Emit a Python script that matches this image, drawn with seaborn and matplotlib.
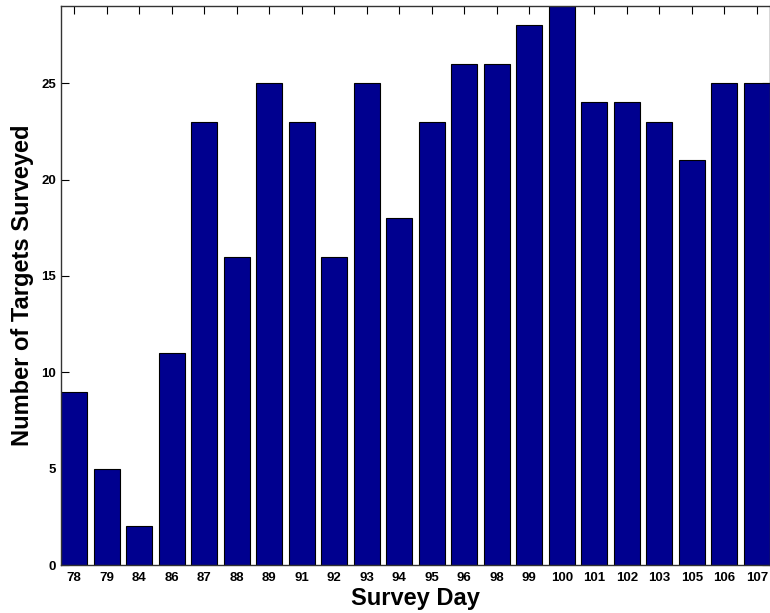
import pandas as pd
import seaborn as sns
import matplotlib.pyplot as plt

days = ["78", "79", "84", "86", "87", "88", "89", "91", "92", "93", "94",
        "95", "96", "98", "99", "100", "101", "102", "103", "105", "106", "107"]
targets = [9, 5, 2, 11, 23, 16, 25, 23, 16, 25, 18,
           23, 26, 26, 28, 29, 24, 24, 23, 21, 25, 25]


def main() -> None:
    df = pd.DataFrame({"day": days, "targets": targets})

    sns.set_style("ticks")
    plt.rcParams["font.family"] = ["Liberation Sans", "DejaVu Sans"]
    plt.rcParams["font.weight"] = "bold"
    plt.rcParams["text.color"] = "black"
    plt.rcParams["axes.labelcolor"] = "black"
    plt.rcParams["xtick.color"] = "black"
    plt.rcParams["ytick.color"] = "black"

    fig = plt.figure(figsize=(7.7, 6.13), dpi=100)
    ax = fig.add_axes([0.0792, 0.0783, 0.9208, 0.9117])
    sns.barplot(data=df, x="day", y="targets", order=days, color="#00008F",
                saturation=1, edgecolor="black", linewidth=0.8, width=0.8, ax=ax)

    ax.set_xlim(-0.4, len(days) - 0.6)
    ax.set_ylim(0, 29)
    ax.set_yticks([0, 5, 10, 15, 20, 25])
    ax.tick_params(direction="in", top=True, right=True, length=6,
                   labelsize=9.5, width=0.8, colors="black")
    ax.tick_params(axis="x", pad=5)
    for lab in ax.get_xticklabels() + ax.get_yticklabels():
        lab.set_fontweight("bold")
    for sp in ax.spines.values():
        sp.set_visible(True)
        sp.set_linewidth(1.0)
        sp.set_color("#333333")

    ax.set_xlabel("Survey Day", fontsize=17, fontweight="bold", labelpad=2,
                  color="black")
    ax.set_ylabel("Number of Targets Surveyed", fontsize=17, fontweight="bold",
                  labelpad=5, color="black")

    fig.savefig("out.png", dpi=100)
    plt.close(fig)


if __name__ == "__main__":
    main()
